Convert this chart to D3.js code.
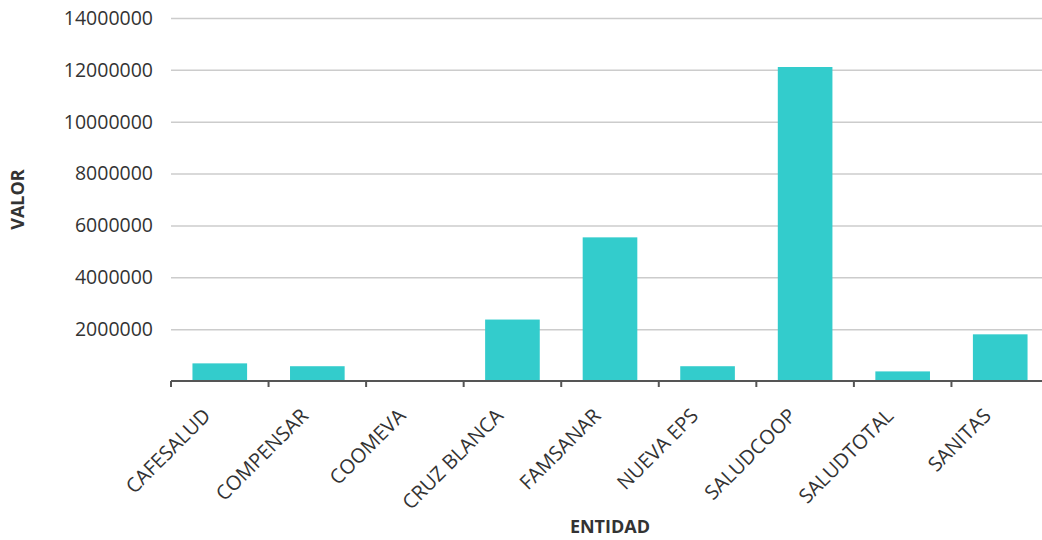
<!DOCTYPE html>
<html>
<head>
<meta charset="utf-8">
<script src="https://cdn.jsdelivr.net/npm/d3@7"></script>
<style>
	body { margin: 0; background: #fff; }
	svg { display: block; font-family: "Open Sans", sans-serif; }
	.grid line { stroke: #cccccc; stroke-width: 1.5; }
	.grid path { display: none; }
	.ytick text { fill: #333; font-size: 19.5px; }
	.xaxis text { fill: #333; font-size: 20px; }
	.xaxis line { stroke: #555; stroke-width: 2; }
	.title { fill: #333; font-size: 18px; font-weight: bold; }
</style>
</head>
<body>
<svg id="chart" width="1042" height="540"></svg>
<script>
const entidades = ['CAFESALUD', 'COMPENSAR', 'COOMEVA', 'CRUZ BLANCA', 'FAMSANAR',
	'NUEVA EPS', 'SALUDCOOP', 'SALUDTOTAL', 'SANITAS'];
const valores = [680000, 570000, 0, 2370000, 5540000, 570000, 12110000, 370000, 1800000];
const yTicks = [2000000, 4000000, 6000000, 8000000, 10000000, 12000000, 14000000];

const svg = d3.select('#chart');
const margin = { left: 171, right: -7, top: 18, bottom: 159 };
const width = 1042, height = 540;

const x = d3.scaleBand()
	.domain(entidades)
	.range([margin.left, width - margin.right])
	.paddingInner(0.44)
	.paddingOuter(0.22);

const y = d3.scaleLinear()
	.domain([0, 14000000])
	.range([height - margin.bottom, margin.top]);

// horizontal grid lines
svg.append('g')
	.attr('class', 'grid')
	.attr('transform', `translate(${margin.left},0)`)
	.call(d3.axisRight(y).tickValues(yTicks).tickSize(width - margin.left).tickFormat(''));

// y tick labels, no axis line
svg.append('g')
	.attr('class', 'ytick')
	.selectAll('text')
	.data(yTicks)
	.enter()
	.append('text')
		.attr('x', 153)
		.attr('y', d => y(d))
		.attr('dy', '0.35em')
		.attr('text-anchor', 'end')
		.text(d => d3.format('d')(d));

// bars
svg.append('g')
	.selectAll('rect')
	.data(valores)
	.enter()
	.append('rect')
		.attr('x', (d, i) => x(entidades[i]))
		.attr('width', x.bandwidth())
		.attr('y', d => y(d))
		.attr('height', d => y(0) - y(d))
		.attr('fill', '#33cccc');

// x axis with ticks at band edges
const step = x.step();
const xAxis = svg.append('g')
	.attr('class', 'xaxis')
	.attr('transform', `translate(0,${y(0)})`);

xAxis.append('line')
	.attr('x1', margin.left).attr('x2', width)
	.attr('y1', 0).attr('y2', 0);

xAxis.selectAll('.tick')
	.data(entidades)
	.enter()
	.append('line')
		.attr('class', 'tick')
		.attr('x1', (d, i) => margin.left + i * step)
		.attr('x2', (d, i) => margin.left + i * step)
		.attr('y1', 0)
		.attr('y2', 6);

xAxis.selectAll('text')
	.data(entidades)
	.enter()
	.append('text')
		.attr('text-anchor', 'end')
		.attr('transform', d => `translate(${x(d) + x.bandwidth() / 2 - 18},${26}) rotate(-45)`)
		.attr('dy', '0.71em')
		.text(d => d);

// axis titles
svg.append('text')
	.attr('class', 'title')
	.attr('text-anchor', 'middle')
	.attr('transform', `translate(24,${(y(0) + y(14000000)) / 2}) rotate(-90)`)
	.text('VALOR');

svg.append('text')
	.attr('class', 'title')
	.attr('text-anchor', 'middle')
	.attr('x', (margin.left + width - margin.right) / 2)
	.attr('y', 533)
	.text('ENTIDAD');
</script>
</body>
</html>
